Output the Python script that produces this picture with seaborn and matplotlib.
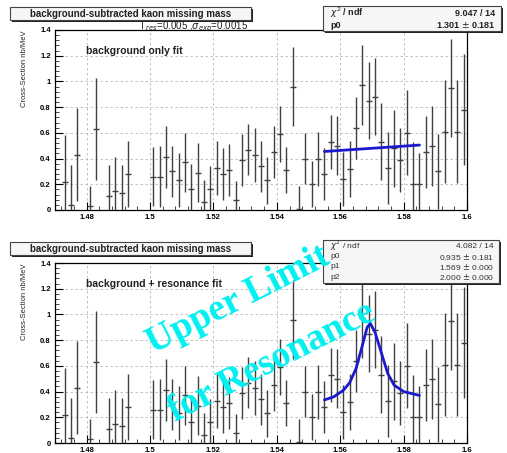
import matplotlib
matplotlib.use("Agg")
import matplotlib.pyplot as plt
import matplotlib.patches as mpatches
from matplotlib.ticker import MultipleLocator, FixedLocator
import seaborn as sns
import pandas as pd

sns.set_theme(style="white")
plt.rcParams['font.family'] = ['Liberation Sans', 'DejaVu Sans']

# ---------------- data ----------------
bin_center = [1.473, 1.475, 1.477, 1.481, 1.483, 1.487, 1.489, 1.491, 1.493,
              1.501, 1.503, 1.505, 1.507, 1.509, 1.511, 1.513, 1.515, 1.517,
              1.519, 1.521, 1.523, 1.525, 1.527, 1.529, 1.531, 1.533, 1.535,
              1.537, 1.539, 1.541, 1.543, 1.545, 1.547, 1.549, 1.551, 1.553,
              1.555, 1.557, 1.559, 1.561, 1.563, 1.565, 1.567, 1.569, 1.571,
              1.573, 1.575, 1.577, 1.579, 1.581, 1.583, 1.585, 1.587, 1.589,
              1.591, 1.593, 1.595, 1.597, 1.599]
cross_section = [0.22, 0.04, 0.43, 0.03, 0.63, 0.11, 0.15, 0.13, 0.28,
                 0.26, 0.26, 0.41, 0.30, 0.23, 0.37, 0.16, 0.29, 0.065,
                 0.16, 0.33, 0.28, 0.31, 0.075, 0.39, 0.47, 0.43, 0.34,
                 0.23, 0.45, 0.59, 0.31, 0.96, 0.01, 0.40, 0.20, 0.40,
                 0.28, 0.53, 0.50, 0.24, 0.32, 0.64, 0.97, 0.85, 0.88,
                 0.53, 0.33, 0.48, 0.39, 0.60, 0.20, 0.20, 0.45, 0.50,
                 0.30, 0.61, 0.95, 0.61, 0.78]
cross_error = [0.36, 0.31, 0.36, 0.16, 0.40, 0.24, 0.26, 0.22, 0.26,
               0.23, 0.24, 0.24, 0.20, 0.21, 0.23, 0.20, 0.23, 0.17,
               0.18, 0.21, 0.20, 0.20, 0.15, 0.20, 0.20, 0.21, 0.20,
               0.18, 0.20, 0.22, 0.18, 0.31, 0.18, 0.20, 0.18, 0.21,
               0.20, 0.21, 0.23, 0.21, 0.22, 0.24, 0.31, 0.30, 0.30,
               0.30, 0.28, 0.30, 0.25, 0.33, 0.33, 0.24, 0.28, 0.31,
               0.29, 0.40, 0.38, 0.40, 0.43]

# background-only fit
bg_fit_x = [1.555, 1.585]
bg_fit_y = [0.455, 0.505]

# background + resonance fit
res_fit_x = [1.555, 1.558, 1.561, 1.563, 1.565, 1.567, 1.5685, 1.5695,
             1.571, 1.573, 1.575, 1.577, 1.580, 1.585]
res_fit_y = [0.335, 0.36, 0.41, 0.47, 0.58, 0.76, 0.90, 0.93,
             0.86, 0.70, 0.54, 0.45, 0.40, 0.37]

x_ticks = [1.48, 1.50, 1.52, 1.54, 1.56, 1.58, 1.60]
x_tick_labels = ["1.48", "1.5", "1.52", "1.54", "1.56", "1.58", "1.6"]
y_ticks = [0, 0.2, 0.4, 0.6, 0.8, 1.0, 1.2, 1.4]
y_tick_labels = ["0", "0.2", "0.4", "0.6", "0.8", "1", "1.2", "1.4"]

title_text = "background-subtracted kaon missing mass"
top_label = "background only fit"
bot_label = "background + resonance fit"
stats_top = [("$\\chi^2$ / ndf", "9.047 / 14"), ("p0", "1.301 $\\pm$ 0.181")]
stats_bot = [("$\\chi^2$ / ndf", "4.082 / 14"), ("p0", "0.935 $\\pm$ 0.181"),
             ("p1", "1.569 $\\pm$ 0.000"), ("p2", "2.000 $\\pm$ 0.000")]

df = pd.DataFrame({"x": bin_center, "y": cross_section, "err": cross_error})

W, H = 507, 453
fig = plt.figure(figsize=(W / 100, H / 100), dpi=100)
fig.patch.set_facecolor("white")


def fx(px):
    return px / W


def fy(py):
    return 1 - py / H


def make_axes(top_px, bot_px):
    ax = fig.add_axes([fx(55), fy(bot_px), fx(467) - fx(55), fy(top_px) - fy(bot_px)])
    ax.set_facecolor("white")
    return ax


ax1 = make_axes(30, 210)
ax2 = make_axes(263, 443)

ink = "#404040"
for ax, fit_x, fit_y, lab in [(ax1, bg_fit_x, bg_fit_y, top_label),
                              (ax2, res_fit_x, res_fit_y, bot_label)]:
    ax.errorbar(df["x"], df["y"], yerr=df["err"], fmt="none", ecolor=ink,
                elinewidth=1.0, capsize=0, zorder=3)
    sns.scatterplot(data=df, x="x", y="y", marker="_", s=14, color=ink,
                    linewidth=1.0, ax=ax, zorder=4, legend=False)
    sns.lineplot(x=fit_x, y=fit_y, color="#1a1acc", lw=2.0, ax=ax,
                 sort=False, estimator=None, zorder=5)
    ax.set_xlim(1.47, 1.60)
    ax.set_ylim(0, 1.4)
    ax.xaxis.set_major_locator(FixedLocator(x_ticks))
    ax.set_xticklabels(x_tick_labels)
    ax.yaxis.set_major_locator(FixedLocator(y_ticks))
    ax.set_yticklabels(y_tick_labels)
    ax.xaxis.set_minor_locator(MultipleLocator(0.004))
    ax.yaxis.set_minor_locator(MultipleLocator(0.04))
    ax.tick_params(which="major", direction="in", length=6, width=0.8,
                   labelsize=5.5, colors="black", pad=3, top=False, right=False,
                   bottom=True, left=True)
    ax.tick_params(which="minor", direction="in", length=3, width=0.6,
                   top=False, right=False, bottom=True, left=True)
    for lbl in ax.get_xticklabels() + ax.get_yticklabels():
        lbl.set_fontweight("bold")
    ax.grid(True, which="major", color="#b8b8b8", linestyle=(0, (3, 3)), lw=0.6)
    for sp in ax.spines.values():
        sp.set_color("black")
        sp.set_linewidth(0.9)
    ax.set_xlabel("")
    ax.set_ylabel("Cross-Section nb/MeV", fontsize=5.5, loc="top", labelpad=9)
    ax.text(0.075, 0.885, lab, transform=ax.transAxes,
            fontsize=7.5, fontweight="bold", color="#222222", va="center", ha="left")


def pave(x0, y0, x1, y1, zorder=10):
    # shadow
    fig.patches.append(mpatches.Rectangle((fx(x0 + 2), fy(y1 + 2)), fx(x1) - fx(x0),
                                          fy(y0) - fy(y1), transform=fig.transFigure,
                                          facecolor="#222222", edgecolor="none",
                                          zorder=zorder))
    fig.patches.append(mpatches.Rectangle((fx(x0), fy(y1)), fx(x1) - fx(x0),
                                          fy(y0) - fy(y1), transform=fig.transFigure,
                                          facecolor="#f6f6f6", edgecolor="#444444",
                                          lw=0.8, zorder=zorder + 0.1))


# title boxes
pave(10, 7, 251, 20)
fig.text(fx(130.5), fy(13.7), title_text, ha="center", va="center", fontsize=7,
         fontweight="bold", color="#222222", zorder=12)
pave(10, 242, 251, 255)
fig.text(fx(130.5), fy(248.7), title_text, ha="center", va="center", fontsize=7,
         fontweight="bold", color="#222222", zorder=12)

# resolution note (partially hidden behind stat box)
fig.text(fx(140), fy(29), "$\\Gamma_{res}$=0.005 ,$\\sigma_{exp}$=0.0015",
         fontsize=7, color="#222222", ha="left", va="baseline", zorder=9)

# stat boxes
pave(323, 6, 501, 31)
for i, (k, v) in enumerate(stats_top):
    yy = 13 + i * 12
    fig.text(fx(330), fy(yy), k, fontsize=6.5, fontweight="bold", va="center",
             ha="left", color="#222222", zorder=12)
    fig.text(fx(495), fy(yy), v, fontsize=6.5, fontweight="bold", va="center",
             ha="right", color="#222222", zorder=12)
pave(323, 240, 499, 283)
for i, (k, v) in enumerate(stats_bot):
    yy = 246 + i * 10.5
    fig.text(fx(330), fy(yy), k, fontsize=6, va="center", ha="left",
             color="#333333", zorder=12)
    fig.text(fx(494), fy(yy), v, fontsize=6, va="center", ha="right",
             color="#333333", zorder=12)

# overlay watermark text
for txt, cx, cy in [("Upper Limit", 238, 300), ("for Resonance", 272, 362)]:
    fig.text(fx(cx), fy(cy), txt, fontsize=27, fontweight="bold",
             family=["Liberation Serif", "DejaVu Serif"], color="#00f0f0",
             rotation=27, rotation_mode="anchor", ha="center", va="center", zorder=20)

fig.savefig("out.png", dpi=100, facecolor="white")
